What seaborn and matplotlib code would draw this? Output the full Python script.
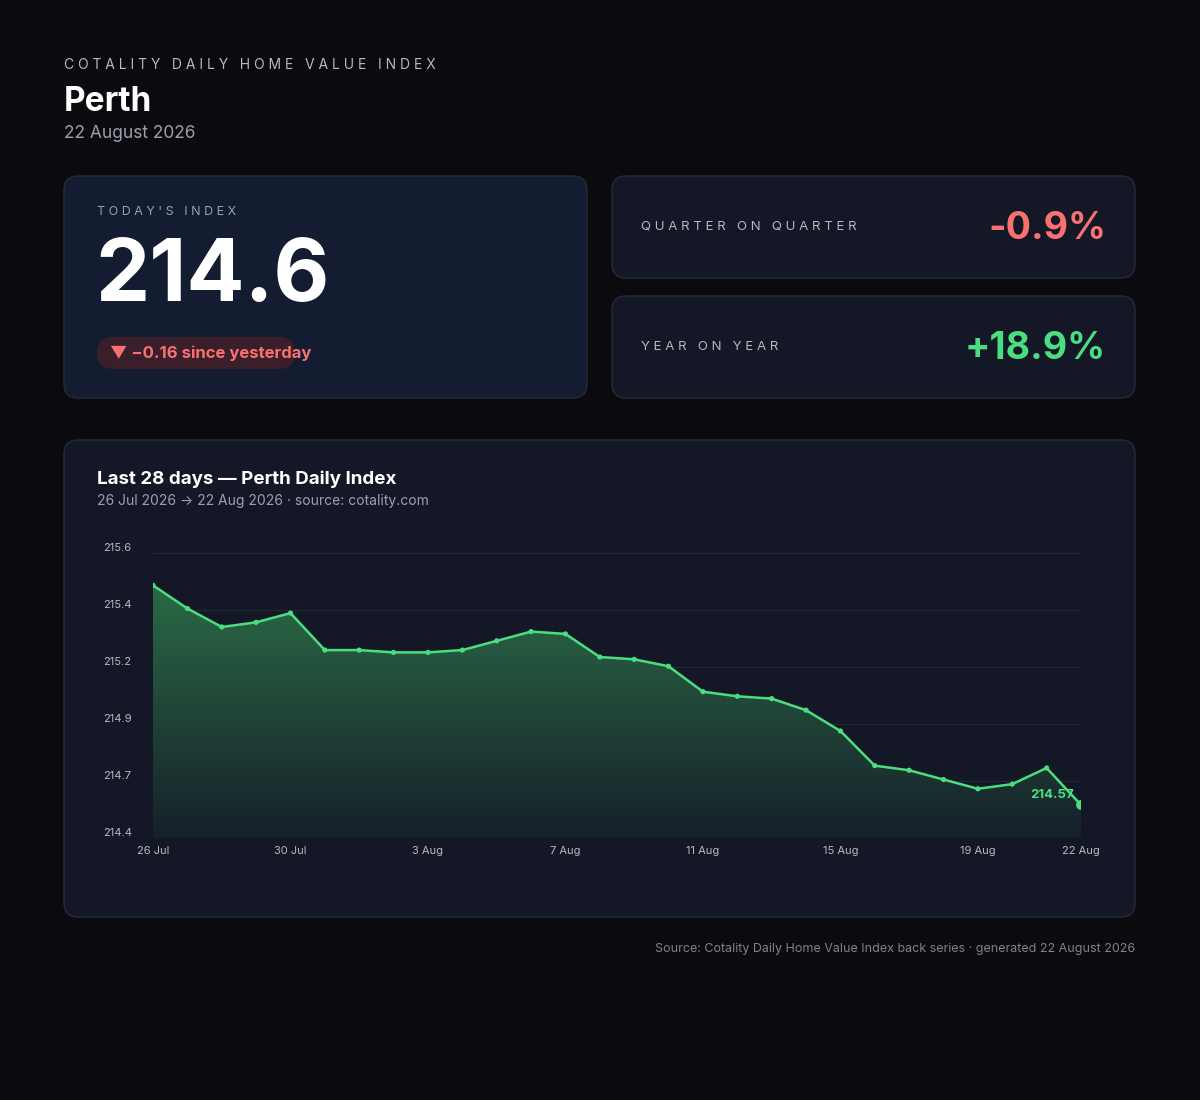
import numpy as np
import pandas as pd
import seaborn as sns
import matplotlib
matplotlib.use('Agg')
import matplotlib.pyplot as plt
from matplotlib.patches import FancyBboxPatch

# data
day_labels = ["26 Jul", "30 Jul", "3 Aug", "7 Aug", "11 Aug", "15 Aug", "19 Aug", "22 Aug"]
day_label_pos = [0, 4, 8, 12, 16, 20, 24, 27]
index_values = [215.52, 215.42, 215.34, 215.36, 215.40, 215.24, 215.24, 215.23, 215.23, 215.24,
                215.28, 215.32, 215.31, 215.21, 215.20, 215.17, 215.06, 215.04, 215.03, 214.98,
                214.89, 214.74, 214.72, 214.68, 214.64, 214.66, 214.73, 214.57]
y_tick_labels = ["214.4", "214.7", "214.9", "215.2", "215.4", "215.6"]
y_min, y_max = 214.427, 215.66

BG = "#0b0b0f"
CARD = "#141826"
EDGE = "#262b3a"
GREEN = "#4ade80"
RED = "#f87171"
MUTED = "#9aa0ad"

sns.set_theme(style="dark")
plt.rcParams['font.family'] = ['Inter', 'DejaVu Sans']

W, H = 1200, 1100
fig = plt.figure(figsize=(12, 11), dpi=100, facecolor=BG)
bg = fig.add_axes([0, 0, 1, 1])
bg.set_xlim(0, W)
bg.set_ylim(H, 0)
bg.axis('off')
bg.set_facecolor(BG)


def card(x, y, w, h, face=CARD):
    bg.add_patch(FancyBboxPatch((x, y), w, h, boxstyle="round,pad=0,rounding_size=14",
                                fc=face, ec=EDGE, lw=1))


def spaced(s):
    return " ".join(s)


# header
bg.text(64, 65, spaced("COTALITY DAILY HOME VALUE INDEX"), color="#b5b9c4", fontsize=10, va='center')
bg.text(64, 102, "Perth", color="white", fontsize=24, fontweight='bold', va='center')
bg.text(64, 134, "22 August 2026", color=MUTED, fontsize=12.5, va='center')

# today card
card(64, 176, 523, 222, face="#131c30")
bg.text(97, 212, spaced("TODAY'S INDEX"), color=MUTED, fontsize=9, va='center')
bg.text(95, 278, "214.6", color="white", fontsize=62, fontweight='bold', va='center')
bg.add_patch(FancyBboxPatch((97, 337), 198, 32, boxstyle="round,pad=0,rounding_size=16",
                            fc="#3a1f2a", ec='none'))
bg.text(110, 353, "▼ −0.16 since yesterday", color=RED, fontsize=12, fontweight='bold', va='center')

# change cards
card(612, 176, 523, 102)
bg.text(641, 227, spaced("QUARTER ON QUARTER"), color="#b5b9c4", fontsize=9.5, va='center')
bg.text(1106, 229, "-0.9%", color=RED, fontsize=27, fontweight='bold', va='center', ha='right')
card(612, 296, 523, 102)
bg.text(641, 347, spaced("YEAR ON YEAR"), color="#b5b9c4", fontsize=9.5, va='center')
bg.text(1106, 349, "+18.9%", color=GREEN, fontsize=27, fontweight='bold', va='center', ha='right')

# chart card
card(64, 440, 1071, 477)
bg.text(97, 479, "Last 28 days — Perth Daily Index", color="white", fontsize=13.5, fontweight='bold', va='center')
bg.text(97, 501, "26 Jul 2026 → 22 Aug 2026 · source: cotality.com", color=MUTED, fontsize=10, va='center')
bg.text(1135, 949, "Source: Cotality Daily Home Value Index back series · generated 22 August 2026",
        color="#7d828e", fontsize=9, va='center', ha='right')

df = pd.DataFrame({"day": np.arange(len(index_values)), "value": index_values})

ax = fig.add_axes([153 / W, 1 - 838 / H, 928 / W, 285 / H])
ax.set_facecolor('none')
ax.set_xlim(0, len(index_values) - 1)
ax.set_ylim(y_min, y_max)

# gradient fill under the line
grad = np.linspace(0, 1, 256).reshape(-1, 1)
cmap = matplotlib.colors.LinearSegmentedColormap.from_list("g", ["#16202a", "#2a6a45"])
im = ax.imshow(grad, extent=[0, len(index_values) - 1, y_min, max(index_values)], origin='lower',
               aspect='auto', cmap=cmap, zorder=1)
poly = ax.fill_between(df["day"], df["value"], y_min, color='none')
im.set_clip_path(poly.get_paths()[0], transform=ax.transData)

sns.lineplot(data=df, x="day", y="value", ax=ax, color=GREEN, lw=1.8, zorder=3)
sns.scatterplot(data=df.iloc[:-1], x="day", y="value", ax=ax, color=GREEN, s=14,
                edgecolor='none', zorder=4)
sns.scatterplot(data=df.iloc[-1:], x="day", y="value", ax=ax, color=GREEN, s=50,
                edgecolor='none', zorder=5)
ax.text(len(index_values) - 1.2, index_values[-1] + 0.045, f"{index_values[-1]:.2f}", color=GREEN,
        fontsize=9.5, fontweight='bold', ha='right', va='center', zorder=6)

ticks = np.linspace(y_min, y_max, 6)
ax.set_yticks(ticks)
ax.set_yticklabels(y_tick_labels)
ax.set_xticks(day_label_pos)
ax.set_xticklabels(day_labels)
ax.tick_params(colors="#b5b9c4", labelsize=8, length=0)
for lab in ax.get_yticklabels():
    lab.set_horizontalalignment('left')
ax.tick_params(axis='y', pad=36)
for lab in ax.get_yticklabels():
    lab.set_va('bottom')
ax.tick_params(axis='x', pad=6)
ax.grid(axis='y', color="#232838", lw=0.8)
ax.grid(axis='x', visible=False)
ax.set_xlabel("")
ax.set_ylabel("")
for s in ax.spines.values():
    s.set_visible(False)

fig.savefig("out.png", dpi=100, facecolor=BG)
